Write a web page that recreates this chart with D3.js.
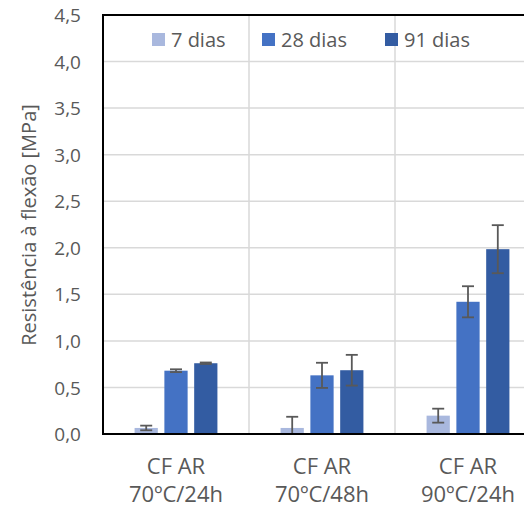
<!DOCTYPE html>
<html><head><meta charset="utf-8">
<script src="https://cdn.jsdelivr.net/npm/d3@7"></script>
<style>body{margin:0;background:#fff}svg{display:block}text{font-family:"Open Sans",sans-serif;fill:#595959}</style>
</head><body><svg id="c" width="524" height="511"></svg>
<script>
const categories = [["CF AR","70ºC/24h"],["CF AR","70ºC/48h"],["CF AR","90ºC/24h"]];
const series = ["7 dias","28 dias","91 dias"];
const colors = ["#A9B8DE","#4472C4","#335CA2"];
const values7 = [0.065, 0.065, 0.197];
const values28 = [0.68, 0.63, 1.42];
const values91 = [0.76, 0.685, 1.985];
const err7 = [0.025, 0.12, 0.075];
const err28 = [0.015, 0.135, 0.167];
const err91 = [0.008, 0.165, 0.258];
const yTicks = [0,0.5,1,1.5,2,2.5,3,3.5,4,4.5];

const svg = d3.select("#c");
const m = {l:103, t:15, r:540, b:434};
const x0 = d3.scaleBand().domain(d3.range(categories.length)).range([m.l, m.l+3*146]).paddingInner(0).paddingOuter(0);
const x1 = d3.scaleBand().domain(series).range([0,146]).paddingInner(0.22).paddingOuter(1.06);
const y = d3.scaleLinear().domain([0,4.5]).range([m.b, m.t]);

// gridlines
svg.append("g").selectAll("line").data(yTicks.slice(1)).join("line")
  .attr("x1",m.l).attr("x2",m.r).attr("y1",d=>y(d)).attr("y2",d=>y(d))
  .attr("stroke","#d9d9d9").attr("stroke-width",1.5);
svg.append("g").selectAll("line").data([1,2]).join("line")
  .attr("x1",d=>x0(d)).attr("x2",d=>x0(d)).attr("y1",m.t).attr("y2",m.b)
  .attr("stroke","#d9d9d9").attr("stroke-width",1.5);

const vals = [values7, values28, values91];
const errs = [err7, err28, err91];
const data = [];
series.forEach((s,si)=>categories.forEach((c,ci)=>data.push({s,si,ci,v:vals[si][ci],e:errs[si][ci]})));

svg.append("g").selectAll("rect").data(data).join("rect")
  .attr("x",d=>x0(d.ci)+x1(d.s)).attr("width",x1.bandwidth())
  .attr("y",d=>y(d.v)).attr("height",d=>y(0)-y(d.v))
  .attr("fill",d=>colors[d.si]);

const eg = svg.append("g").attr("stroke","#595959").attr("stroke-width",1.8);
data.forEach(d=>{
  const cx = x0(d.ci)+x1(d.s)+x1.bandwidth()/2;
  const hi = d.v+d.e, lo = Math.max(0,d.v-d.e);
  eg.append("line").attr("x1",cx).attr("x2",cx).attr("y1",y(hi)).attr("y2",y(lo));
  eg.append("line").attr("x1",cx-6).attr("x2",cx+6).attr("y1",y(hi)).attr("y2",y(hi));
  if (d.v-d.e>0) eg.append("line").attr("x1",cx-6).attr("x2",cx+6).attr("y1",y(lo)).attr("y2",y(lo));
});

// frame
svg.append("path").attr("d",`M${m.r},${m.t}H${m.l}V${m.b}H${m.r}`)
  .attr("fill","none").attr("stroke","#000").attr("stroke-width",2);

// y axis labels
const yAxis = d3.axisLeft(y).tickValues(yTicks).tickSize(0).tickPadding(0)
  .tickFormat(d=>d3.format(".1f")(d).replace(".",","));
const ga = svg.append("g").attr("transform",`translate(81,0)`).call(yAxis);
ga.select(".domain").remove();
ga.selectAll("text").attr("font-size",19).attr("fill","#595959").attr("font-family","'Open Sans',sans-serif").attr("dy","0.35em");

svg.append("text").attr("transform","translate(29,225) rotate(-90)")
  .attr("text-anchor","middle").attr("font-size",20).attr("dy","0.35em").text("Resistência à flexão [MPa]");

// x labels
const xl = svg.append("g").selectAll("text").data(categories).join("text")
  .attr("text-anchor","middle").attr("font-size",22)
  .attr("x",(d,i)=>x0(i)+73).attr("y",474);
xl.append("tspan").text(d=>d[0]);
xl.append("tspan").attr("x",(d,i)=>x0(i)+73).attr("dy",28).text(d=>d[1]);

// legend
const lx = [152, 262, 385];
const lg = svg.append("g").selectAll("g").data(series).join("g")
  .attr("transform",(d,i)=>`translate(${lx[i]},33)`);
lg.append("rect").attr("width",13).attr("height",13).attr("fill",(d,i)=>colors[i]);
lg.append("text").attr("x",19).attr("y",7).attr("dy","0.35em").attr("font-size",20).text(d=>d);
</script></body></html>
